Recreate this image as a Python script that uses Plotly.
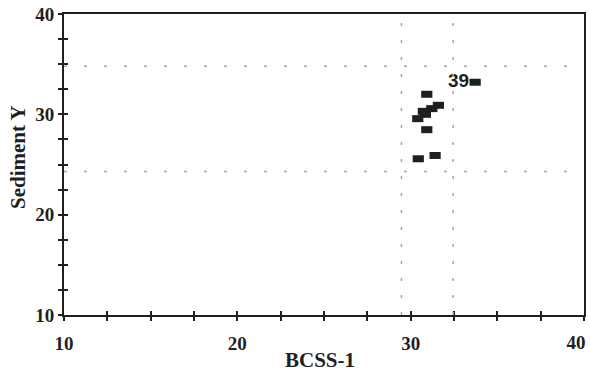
import plotly.graph_objects as go

# Scatter of sediment score against BCSS-1 score
bcss = [33.72, 30.93, 31.60, 31.22, 30.73, 30.85, 30.41, 30.93, 30.44, 31.41]
sediment = [33.2, 32.0, 30.9, 30.57, 30.3, 30.0, 29.57, 28.47, 25.57, 25.9]
point_labels = ["<b>39</b>", "", "", "", "", "", "", "", "", ""]

# Reference (cut-off) lines
x_cuts = [29.47, 32.45]
y_cuts = [24.3, 34.8]

x_range = [10, 40]
y_range = [10, 40]
major_ticks = [10, 20, 30, 40]
y_tick_text = ["10", "20", "30", "40"]
x_tick_text = ["10", "20", "30", "40"]

ink = "#1f1f1f"
serif = "Liberation Serif"
title_font = dict(family=serif, size=21, color=ink, weight="bold")
tick_font = dict(family=serif, size=19, color=ink, weight="bold")

fig = go.Figure()

fig.add_trace(go.Scatter(
    x=bcss, y=sediment, mode="markers+text",
    text=point_labels, textposition="middle left",
    textfont=dict(family="Liberation Sans", size=19, color=ink),
    marker=dict(symbol="line-ew", size=8, line=dict(width=7, color=ink)),
    showlegend=False, hoverinfo="skip",
))

# invisible traces so the overlay axes render
fig.add_trace(go.Scatter(x=x_range, y=y_range, xaxis="x2", yaxis="y2",
                         mode="markers", marker=dict(opacity=0),
                         showlegend=False, hoverinfo="skip"))
fig.add_trace(go.Scatter(x=x_range, y=y_range, xaxis="x3", yaxis="y",
                         mode="markers", marker=dict(opacity=0),
                         showlegend=False, hoverinfo="skip"))

for xc in x_cuts:
    fig.add_vline(x=xc, line=dict(color="#a8a8a8", width=1.5, dash="3px,14px"))
for yc in y_cuts:
    fig.add_hline(y=yc, line=dict(color="#a8a8a8", width=1.5, dash="3px,17px"))

axis_common = dict(
    showgrid=False, zeroline=False, automargin=False,
    showline=True, linecolor=ink, linewidth=2, mirror=True,
    ticks="outside", ticklen=4, tickwidth=1.5, tickcolor=ink,
    tickvals=major_ticks,
    minor=dict(dtick=2.5, tick0=10, ticks="outside", ticklen=4,
               tickwidth=1.5, tickcolor=ink, showgrid=False),
    tickfont=tick_font,
)

inner_ticks = dict(
    showgrid=False, zeroline=False, automargin=False,
    showticklabels=False, showline=False,
    ticks="inside", ticklen=4, tickwidth=1.5, tickcolor=ink,
    tickvals=major_ticks,
    minor=dict(dtick=2.5, tick0=10, ticks="inside", ticklen=4,
               tickwidth=1.5, tickcolor=ink),
)

fig.update_layout(
    width=590, height=372,
    margin=dict(l=64, r=6, t=14, b=57),
    paper_bgcolor="white", plot_bgcolor="white",
    # right-most x label sits on its own axis, nudged left inside the page
    xaxis=dict(range=x_range, ticktext=x_tick_text[:-1] + [""],
               ticklabelstandoff=6, **axis_common),
    yaxis=dict(range=y_range, ticktext=y_tick_text, ticklabelstandoff=0,
               **axis_common),
    xaxis2=dict(range=x_range, overlaying="x", **inner_ticks),
    yaxis2=dict(range=y_range, overlaying="y", **inner_ticks),
    xaxis3=dict(range=x_range, overlaying="x", side="bottom",
                showgrid=False, zeroline=False, automargin=False,
                showline=False, ticks="outside", ticklen=4, tickcolor="rgba(0,0,0,0)",
                tickvals=major_ticks[-1:], ticktext=x_tick_text[-1:],
                ticklabelstandoff=6, ticklabelshift=-8,
                ticklabeloverflow="allow", tickfont=tick_font),
    annotations=[
        dict(text="BCSS-1", xref="paper", yref="paper", x=0.492, y=-0.149,
             xanchor="center", yanchor="middle", showarrow=False, font=title_font),
        dict(text="Sediment Y", xref="paper", yref="paper", x=-0.0885, y=0.525,
             xanchor="center", yanchor="middle", textangle=-90,
             showarrow=False, font=title_font),
    ],
)

fig.write_html("out.html")
